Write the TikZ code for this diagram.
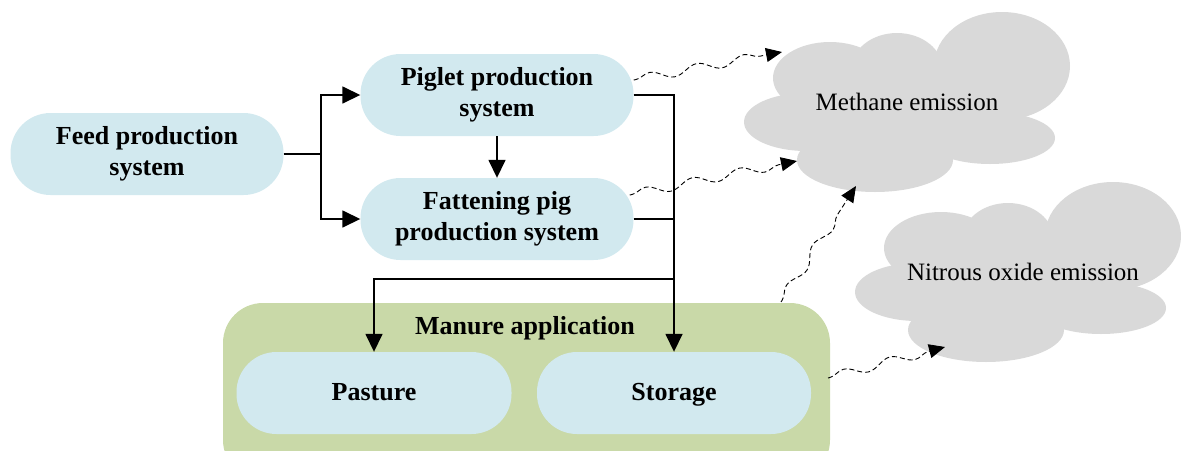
\documentclass[tikz,border=0pt]{standalone}
\usepackage{fontspec}
\setmainfont{Liberation Serif}
\usetikzlibrary{arrows.meta,decorations.pathmorphing}
\definecolor{boxblue}{HTML}{D2E9EF}
\definecolor{boxgreen}{HTML}{C9D9A8}
\definecolor{cloudgray}{HTML}{D9D9D9}
\tikzset{
  procbox/.style={fill=boxblue, rounded corners=40pt, minimum width=273pt,
    minimum height=82pt, align=center, inner sep=0pt,
    font=\fontsize{26}{31}\selectfont\bfseries},
  onelinebox/.style={procbox, text height=20pt, text depth=5pt},
  flow/.style={line width=1.6pt, -{Triangle[length=18pt,width=17pt]}},
  link/.style={line width=1.6pt},
  emit/.style={line width=0.9pt, dash pattern=on 5pt off 3pt,
    -{Triangle[length=16pt,width=14pt]},
    decorate, decoration={snake, amplitude=4.5pt, segment length=48pt,
      pre length=2pt, post length=12pt}},
  cloudlabel/.style={font=\fontsize{25}{30}\selectfont},
}
% a puffy cloud built from overlapping ellipses, placed by offset
\newcommand\puffcloud[2]{%
  \begin{scope}[shift={(#1,#2)}]
    \fill[cloudgray] (830,78) ellipse [x radius=57pt, y radius=36pt];
    \fill[cloudgray] (897,70) ellipse [x radius=46pt, y radius=37pt];
    \fill[cloudgray] (1002,66) ellipse [x radius=68pt, y radius=54pt];
    \fill[cloudgray] (990,138) ellipse [x radius=65pt, y radius=26pt];
    \fill[cloudgray] (875,160) ellipse [x radius=78pt, y radius=32pt];
    \fill[cloudgray] (806,122) ellipse [x radius=62pt, y radius=29pt];
    \fill[cloudgray] (910,110) ellipse [x radius=105pt, y radius=52pt];
  \end{scope}}
\begin{document}
\begin{tikzpicture}[x=1pt, y=-1pt]
  \clip (0,0) rectangle (1181,450);
  \useasboundingbox (0,0) rectangle (1181,450);

  % emission clouds
  \puffcloud{0}{0}
  \puffcloud{111}{170}
  \node[cloudlabel] (methane) at (907,102) {Methane emission};
  \node[cloudlabel] (nitrous) at (1023,272) {Nitrous oxide emission};

  % manure application container
  \fill[boxgreen, rounded corners=40pt] (223,303) rectangle (830,480);
  \node[font=\fontsize{26}{31}\selectfont\bfseries] (manure) at (525,328) {Manure application};
  \coordinate (mtop) at (781,302);
  \coordinate (mright) at (828,378);

  % process boxes
  \node[procbox] (feed) at (147,154) {Feed production\\system};
  \node[procbox] (piglet) at (497,95) {Piglet production\\system};
  \node[procbox] (fatten) at (497,219) {Fattening pig\\production system};
  \node[onelinebox, minimum width=275pt] (pasture) at (374,393) {Pasture};
  \node[onelinebox, minimum width=274pt] (storage) at (674,393) {Storage};

  % material flows
  \coordinate (split) at (321,154);
  \draw[link] (feed.east) -- (split);
  \draw[flow] (split) |- (piglet.west);
  \draw[flow] (split) |- (fatten.west);
  \draw[flow] (piglet.south) -- (fatten.north);
  \draw[flow] (piglet.east) -| (storage.north);
  \draw[link] (fatten.east) -- (fatten.east -| storage.north);
  \coordinate (join) at (674,279);
  \draw[flow] (join) -| (pasture.north);

  % emission paths
  \coordinate (m1) at (782,52);
  \coordinate (m2) at (797,161);
  \coordinate (m3) at (856,186);
  \coordinate (n1) at (945,347);
  \draw[emit] ([yshift=15pt]piglet.east) -- (m1);
  \draw[emit] ([xshift=-4pt,yshift=24pt]fatten.east) -- (m2);
  \draw[emit] (mtop) -- (m3);
  \draw[emit] (mright) -- (n1);
\end{tikzpicture}
\end{document}
